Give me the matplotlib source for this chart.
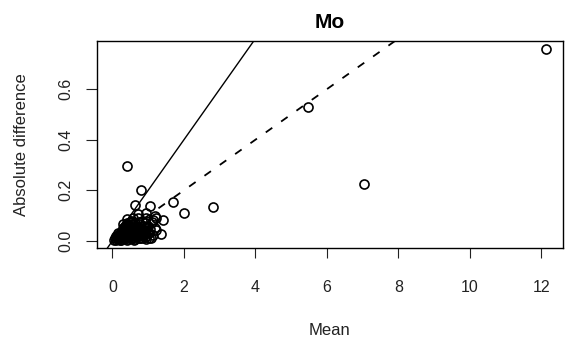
import matplotlib
matplotlib.use("Agg")
import numpy as np
import matplotlib.pyplot as plt

plt.rcParams["font.family"] = ["Liberation Sans", "DejaVu Sans"]

# mean vs absolute difference, Mo
mean_vals = [
    12.12, 7.05, 5.47, 2.80, 2.00, 1.69, 0.42, 0.81, 0.63, 1.05,
    1.40, 1.36, 1.21, 0.70, 0.95, 1.18, 1.13, 0.53, 0.39, 1.23, 0.90,
    0.05, 0.08, 0.10, 0.12, 0.15, 0.18, 0.20, 0.22, 0.25, 0.27,
    0.30, 0.30, 0.32, 0.35, 0.36, 0.38, 0.40, 0.40, 0.42, 0.45,
    0.47, 0.48, 0.50, 0.52, 0.55, 0.55, 0.58, 0.60, 0.60, 0.62,
    0.65, 0.67, 0.70, 0.70, 0.72, 0.75, 0.78, 0.80, 0.82, 0.85,
    0.88, 0.90, 0.92, 0.95, 0.98, 1.00, 1.02, 1.05, 1.10, 1.12,
    1.20, 0.15, 0.25, 0.35, 0.45, 0.50, 0.65, 0.75, 0.85, 0.95,
    0.20, 0.28, 0.33, 0.43, 0.53, 0.57, 0.63, 0.68, 0.73, 0.80,
    0.88, 1.00, 0.10, 0.38, 0.48, 0.58, 0.40, 0.30,
    0.13, 0.17, 0.23, 0.26, 0.31, 0.34, 0.37, 0.41, 0.44, 0.46,
    0.49, 0.51, 0.54, 0.56, 0.59, 0.61, 0.64, 0.66, 0.69, 0.71,
    0.74, 0.77, 0.79, 0.83, 0.86, 0.91, 0.94, 0.97, 1.03, 1.08,
]
abs_diff = [
    0.760, 0.224, 0.531, 0.133, 0.109, 0.153, 0.297, 0.200, 0.141, 0.136,
    0.082, 0.027, 0.090, 0.105, 0.110, 0.100, 0.083, 0.076, 0.063, 0.043, 0.070,
    0.003, 0.010, 0.005, 0.020, 0.008, 0.015, 0.030, 0.005, 0.020, 0.040,
    0.010, 0.050, 0.030, 0.015, 0.060, 0.040, 0.005, 0.025, 0.070, 0.045,
    0.015, 0.030, 0.060, 0.010, 0.040, 0.080, 0.025, 0.050, 0.005, 0.070,
    0.035, 0.015, 0.055, 0.090, 0.030, 0.065, 0.010, 0.045, 0.080, 0.025,
    0.060, 0.015, 0.040, 0.090, 0.030, 0.060, 0.010, 0.045, 0.075, 0.025,
    0.050, 0.030, 0.002, 0.035, 0.020, 0.035, 0.055, 0.020, 0.045, 0.020,
    0.010, 0.025, 0.045, 0.055, 0.050, 0.065, 0.020, 0.045, 0.075, 0.030,
    0.035, 0.040, 0.018, 0.010, 0.075, 0.090, 0.085, 0.065,
    0.012, 0.022, 0.012, 0.032, 0.022, 0.052, 0.025, 0.045, 0.008, 0.060,
    0.050, 0.022, 0.062, 0.012, 0.040, 0.030, 0.008, 0.048, 0.022, 0.040,
    0.012, 0.050, 0.025, 0.012, 0.038, 0.055, 0.008, 0.050, 0.030, 0.012,
]
slope_solid = 0.2
slope_dashed = 0.1

fig = plt.figure(figsize=(5.73, 3.38), dpi=100)
ax = fig.add_axes([0.1693, 0.2663, 0.8132, 0.6124])

ax.plot(mean_vals, abs_diff, linestyle="none", marker="o", markersize=6.5,
        markerfacecolor="none", markeredgecolor="black", markeredgewidth=1.2)

xs = np.array([-1.0, 14.0])
ax.plot(xs, slope_solid * xs, color="black", linewidth=1.0)
xd = np.array([0.0, 14.0])
ax.plot(xd, slope_dashed * xd, color="black", linewidth=1.3, dashes=(4.4, 6.0))

# R-style 4% padding around the data
xmin, xmax = min(mean_vals), max(mean_vals)
ymin, ymax = min(abs_diff), max(abs_diff)
xpad = 0.04 * (xmax - xmin)
ypad = 0.04 * (ymax - ymin)
ax.set_xlim(xmin - xpad, xmax + xpad)
ax.set_ylim(ymin - ypad, ymax + ypad)

ax.set_xticks([0, 2, 4, 6, 8, 10, 12])
ax.set_yticks([0.0, 0.2, 0.4, 0.6])
ax.set_yticklabels(["0.0", "0.2", "0.4", "0.6"], rotation=90, va="center")
ax.tick_params(axis="x", length=7, width=0.8, pad=16, labelsize=11.5, colors="#222222")
ax.tick_params(axis="y", length=8, width=0.8, pad=9, labelsize=11.5, colors="#222222")
for s in ax.spines.values():
    s.set_linewidth(1.0)

ax.set_xlabel("Mean", fontsize=12, labelpad=20, color="#222222")
ax.set_ylabel("Absolute difference", fontsize=12, labelpad=21, color="#222222")
ax.set_title("Mo", fontsize=15, fontweight="bold", pad=9)

fig.savefig("out.png", dpi=100)
